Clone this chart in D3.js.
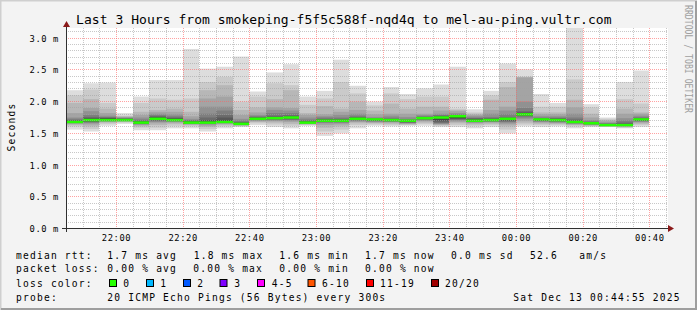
<!DOCTYPE html>
<html><head><meta charset="utf-8">
<script src="https://cdn.jsdelivr.net/npm/d3@7"></script>
<style>
html,body{margin:0;padding:0;background:#f3f3f3;}
svg text{font-family:"DejaVu Sans Mono",monospace;}
</style>
</head><body>
<svg id="chart" width="697" height="310"></svg>
<script>
// ---------- data ----------
const titleText = "Last 3 Hours from smokeping-f5f5c588f-nqd4q to mel-au-ping.vultr.com";
const slots = ["21:45","21:50","21:55","22:00","22:05","22:10","22:15","22:20","22:25","22:30","22:35","22:40",
  "22:45","22:50","22:55","23:00","23:05","23:10","23:15","23:20","23:25","23:30","23:35","23:40",
  "23:45","23:50","23:55","00:00","00:05","00:10","00:15","00:20","00:25","00:30","00:35"];
// 20 sorted ping RTTs (ms) per 5-minute slot
const pings = [
  [1.55,1.60,1.62,1.64,1.65,1.66,1.66,1.67,1.67,1.67,1.68,1.68,1.69,1.70,1.72,1.74,1.81,1.97,2.09,2.17],
  [1.52,1.56,1.60,1.63,1.65,1.66,1.67,1.68,1.69,1.70,1.71,1.72,1.73,1.75,1.78,1.84,1.89,2.03,2.18,2.28],
  [1.61,1.64,1.66,1.67,1.68,1.69,1.70,1.70,1.71,1.71,1.72,1.72,1.73,1.74,1.75,1.77,1.81,1.88,1.97,2.29],
  [1.64,1.66,1.67,1.68,1.69,1.69,1.70,1.70,1.70,1.71,1.71,1.71,1.72,1.72,1.73,1.74,1.75,1.76,1.77,1.81],
  [1.54,1.58,1.60,1.62,1.63,1.64,1.65,1.65,1.66,1.66,1.67,1.67,1.68,1.69,1.71,1.74,1.78,1.83,1.97,2.07],
  [1.54,1.58,1.62,1.65,1.67,1.68,1.69,1.70,1.71,1.72,1.73,1.74,1.75,1.76,1.78,1.80,1.83,1.86,2.04,2.33],
  [1.57,1.61,1.64,1.66,1.67,1.68,1.69,1.70,1.70,1.71,1.71,1.72,1.73,1.74,1.76,1.79,1.83,1.88,2.02,2.33],
  [1.57,1.60,1.62,1.63,1.64,1.65,1.65,1.66,1.66,1.66,1.67,1.67,1.68,1.69,1.70,1.72,1.76,1.83,2.04,2.82],
  [1.52,1.56,1.59,1.61,1.63,1.64,1.65,1.66,1.66,1.66,1.67,1.68,1.70,1.74,1.80,1.91,2.04,2.17,2.30,2.51],
  [1.57,1.60,1.62,1.64,1.65,1.66,1.66,1.67,1.67,1.67,1.68,1.70,1.74,1.78,1.85,1.91,2.07,2.25,2.38,2.54],
  [1.59,1.60,1.61,1.62,1.63,1.63,1.64,1.64,1.64,1.64,1.65,1.65,1.66,1.67,1.69,1.72,1.78,1.86,1.99,2.70],
  [1.62,1.65,1.67,1.68,1.69,1.70,1.71,1.71,1.72,1.72,1.73,1.73,1.74,1.75,1.76,1.78,1.82,1.90,2.07,2.15],
  [1.59,1.63,1.66,1.68,1.69,1.70,1.71,1.72,1.72,1.73,1.73,1.74,1.75,1.77,1.81,1.86,1.90,2.03,2.28,2.45],
  [1.57,1.61,1.64,1.67,1.69,1.70,1.71,1.72,1.73,1.74,1.74,1.75,1.76,1.78,1.81,1.85,1.89,2.17,2.25,2.58],
  [1.61,1.62,1.63,1.64,1.65,1.65,1.66,1.66,1.66,1.66,1.67,1.67,1.68,1.69,1.71,1.74,1.78,1.81,1.94,2.07],
  [1.45,1.52,1.58,1.62,1.65,1.66,1.67,1.68,1.68,1.69,1.69,1.70,1.71,1.72,1.74,1.76,1.79,1.92,2.04,2.16],
  [1.49,1.55,1.60,1.63,1.65,1.66,1.67,1.68,1.68,1.69,1.69,1.70,1.71,1.72,1.74,1.78,1.83,1.88,2.30,2.65],
  [1.57,1.62,1.65,1.67,1.68,1.69,1.70,1.71,1.71,1.72,1.72,1.73,1.74,1.75,1.77,1.80,1.86,1.99,2.12,2.24],
  [1.61,1.63,1.65,1.66,1.67,1.68,1.69,1.69,1.70,1.70,1.70,1.71,1.71,1.72,1.73,1.75,1.79,1.85,1.93,1.99],
  [1.60,1.62,1.64,1.66,1.67,1.68,1.68,1.69,1.69,1.69,1.70,1.70,1.71,1.72,1.74,1.77,1.80,1.96,2.12,2.22],
  [1.61,1.62,1.63,1.64,1.65,1.66,1.66,1.67,1.67,1.67,1.68,1.68,1.69,1.70,1.72,1.75,1.80,1.88,2.03,2.11],
  [1.61,1.64,1.66,1.68,1.69,1.70,1.71,1.72,1.72,1.73,1.73,1.74,1.74,1.75,1.76,1.78,1.80,1.91,2.07,2.20],
  [1.59,1.61,1.62,1.63,1.64,1.65,1.66,1.68,1.70,1.72,1.74,1.75,1.76,1.77,1.78,1.80,1.85,1.91,2.07,2.26],
  [1.59,1.62,1.65,1.67,1.69,1.70,1.71,1.72,1.73,1.74,1.75,1.76,1.77,1.78,1.79,1.81,1.84,1.86,1.88,2.54],
  [1.57,1.61,1.63,1.65,1.66,1.67,1.68,1.69,1.69,1.70,1.70,1.71,1.72,1.73,1.74,1.76,1.78,1.80,1.82,1.87],
  [1.59,1.62,1.64,1.66,1.67,1.68,1.68,1.69,1.70,1.70,1.71,1.71,1.72,1.73,1.75,1.80,1.86,2.02,2.09,2.16],
  [1.49,1.55,1.60,1.63,1.65,1.67,1.68,1.69,1.70,1.71,1.71,1.72,1.73,1.75,1.79,1.85,1.91,2.22,2.30,2.59],
  [1.60,1.63,1.66,1.69,1.72,1.74,1.76,1.77,1.78,1.79,1.79,1.80,1.82,1.84,1.89,1.99,2.37,2.38,2.38,2.50],
  [1.59,1.62,1.64,1.66,1.67,1.68,1.69,1.69,1.70,1.70,1.71,1.71,1.72,1.73,1.74,1.76,1.79,1.82,1.91,2.11],
  [1.60,1.62,1.64,1.65,1.66,1.67,1.68,1.69,1.69,1.70,1.70,1.71,1.72,1.73,1.74,1.76,1.79,1.82,1.91,1.97],
  [1.57,1.60,1.62,1.63,1.64,1.65,1.66,1.66,1.67,1.67,1.68,1.68,1.69,1.71,1.74,1.80,1.90,2.02,2.34,3.30],
  [1.59,1.60,1.61,1.62,1.63,1.63,1.64,1.64,1.65,1.65,1.65,1.66,1.66,1.67,1.68,1.70,1.74,1.80,1.90,1.95],
  [1.59,1.60,1.60,1.61,1.61,1.61,1.62,1.62,1.62,1.62,1.62,1.63,1.63,1.64,1.65,1.66,1.68,1.70,1.72,1.74],
  [1.57,1.58,1.59,1.60,1.61,1.61,1.62,1.62,1.62,1.62,1.63,1.63,1.64,1.66,1.69,1.73,1.80,1.88,2.03,2.30],
  [1.59,1.62,1.64,1.66,1.67,1.68,1.69,1.69,1.70,1.70,1.71,1.71,1.72,1.73,1.75,1.77,1.80,1.82,1.96,2.48]
];
const medians = [1.67,1.70,1.70,1.70,1.66,1.72,1.70,1.66,1.66,1.67,1.64,1.72,1.73,1.74,1.66,1.69,1.69,1.72,1.71,1.70,
  1.69,1.73,1.74,1.76,1.69,1.70,1.72,1.79,1.71,1.70,1.67,1.65,1.62,1.62,1.71];
const lossPct = [0,0,0,0,0,0,0,0,0,0,0,0,0,0,0,0,0,0,0,0,0,0,0,0,0,0,0,0,0,0,0,0,0,0,0];
const yTickValues = [0,0.5,1.0,1.5,2.0,2.5,3.0];
const yTickLabels = ["0.0 m","0.5 m","1.0 m","1.5 m","2.0 m","2.5 m","3.0 m"];
const xTickLabels = ["22:00","22:20","22:40","23:00","23:20","23:40","00:00","00:20","00:40"];
const lossLabels = ["0","1","2","3","4-5","6-10","11-19","20/20"];
const lossColors = ["#26ff00","#00b8ff","#0059ff","#7e00ff","#ff00ff","#ff5500","#ff0000","#a10000"];
const rttRow = ["median rtt:","1.7 ms avg","1.8 ms max","1.6 ms min","1.7 ms now","0.0 ms sd","52.6","am/s"];
const lossRow = ["packet loss:","0.00 % avg","0.00 % max","0.00 % min","0.00 % now"];
const probeRow = ["probe:","20 ICMP Echo Pings (56 Bytes) every 300s","Sat Dec 13 00:44:55 2025"];

// ---------- helpers ----------
const toDate = s => { const [h,m] = s.split(":").map(Number); return new Date(Date.UTC(2025,11,h<12?13:12,h,m)); };
const t0 = toDate("21:45"), t1 = toDate("00:45");
const svg = d3.select("#chart");
const W = 697, H = 310;
const x = d3.scaleUtc().domain([t0,t1]).range([66,666]);
const y = d3.scaleLinear().domain([0,3.15]).range([228,28]);
const step = 5*60*1000;

// background + 3D frame
svg.append("rect").attr("width",W).attr("height",H).attr("fill","#f3f3f3");
svg.append("path").attr("d",`M0.5,${H}V0.5H${W}`).attr("stroke","#cfcfcf").attr("stroke-width",2).attr("fill","none");
svg.append("path").attr("d",`M1,${H-1}H${W-1}V1`).attr("stroke","#9e9e9e").attr("stroke-width",2).attr("fill","none");

// canvas
svg.append("rect").attr("x",66).attr("y",28).attr("width",602).attr("height",200).attr("fill","#ffffff");
svg.append("clipPath").attr("id","clip").append("rect").attr("x",66).attr("y",28).attr("width",602).attr("height",200);

const greys = ["#dddddd","#cacaca","#b7b7b7","#a4a4a4","#919191","#7e7e7e","#6b6b6b","#585858","#454545","#323232"];
const plot = svg.append("g").attr("clip-path","url(#clip)");
slots.forEach((s,i) => {
  const d = toDate(s);
  const xa = Math.round(x(d)), xb = Math.round(x(new Date(+d+step)));
  const p = pings[i];
  for (let k=0;k<10;k++){
    const lo = p[k], hi = p[19-k];
    plot.append("rect").attr("x",xa).attr("width",xb-xa)
      .attr("y",y(hi)).attr("height",Math.max(0,y(lo)-y(hi))).attr("fill",greys[k]);
  }
});
// median line coloured by loss
slots.forEach((s,i) => {
  const d = toDate(s);
  const xa = Math.round(x(d)), xb = Math.round(x(new Date(+d+step)));
  const ym = y(medians[i]);
  plot.append("rect").attr("x",xa).attr("width",xb-xa).attr("y",ym-1.25).attr("height",2.5)
    .attr("fill",lossColors[lossPct[i]]);
});

// grid (drawn over data)
const grid = svg.append("g").attr("fill","none").attr("stroke-dasharray","1,1");
const minorY = d3.range(1,32).map(v=>v/10).filter(v=>Math.abs(v*2-Math.round(v*2))>1e-6);
minorY.forEach(v => { const yy = Math.round(y(v))+0.5;
  grid.append("line").attr("x1",66).attr("x2",668).attr("y1",yy).attr("y2",yy).attr("stroke","rgba(160,160,160,0.58)"); });
const minorX = d3.utcMinute.every(5).range(new Date(+t0+step), new Date(+t1+1)).filter(d=>d.getUTCMinutes()%20!==0);
minorX.forEach(d => { const xx = Math.round(x(d))+0.5;
  grid.append("line").attr("x1",xx).attr("x2",xx).attr("y1",28).attr("y2",228).attr("stroke","rgba(160,160,160,0.58)"); });
yTickValues.slice(1).forEach(v => { const yy = Math.round(y(v))+0.5;
  grid.append("line").attr("x1",66).attr("x2",668).attr("y1",yy).attr("y2",yy).attr("stroke","rgba(255,100,100,0.6)"); });
const majorX = xTickLabels.map(toDate);
majorX.forEach(d => { const xx = Math.round(x(d))+0.5;
  grid.append("line").attr("x1",xx).attr("x2",xx).attr("y1",28).attr("y2",228).attr("stroke","rgba(255,100,100,0.6)"); });

// axes
svg.append("line").attr("x1",62).attr("x2",669).attr("y1",228.5).attr("y2",228.5).attr("stroke","#303030");
svg.append("line").attr("x1",66.5).attr("x2",66.5).attr("y1",232).attr("y2",26).attr("stroke","#303030");
svg.append("path").attr("d","M66.5,21L63,27H70Z").attr("fill","#8b1a1a");
svg.append("path").attr("d","M674,228.5L668,225V232Z").attr("fill","#8b1a1a");

// axis labels
const tickFont = {size:"8.8px", ls:"0.6px"};
const yAxisG = svg.append("g");
yTickValues.forEach((v,i) => {
  yAxisG.append("text").attr("x",59).attr("y",Math.round(y(v))+3.5).attr("text-anchor","end")
    .attr("font-size",tickFont.size).attr("letter-spacing",tickFont.ls).text(yTickLabels[i]);
});
majorX.forEach((d,i) => {
  svg.append("text").attr("x",x(d)+0.5).attr("y",240.5).attr("text-anchor","middle")
    .attr("font-size",tickFont.size).attr("letter-spacing",tickFont.ls).text(xTickLabels[i]);
});

// title
svg.append("text").attr("x",76).attr("y",23.5).attr("font-size","13px").attr("letter-spacing","0.05px").text(titleText);
// y label
svg.append("text").attr("transform","translate(14.5,127) rotate(-90)").attr("text-anchor","middle")
  .attr("font-size","9.6px").attr("letter-spacing","1.2px").text("Seconds");
// watermark
svg.append("text").attr("transform","translate(684.5,5) rotate(90)")
  .attr("font-size","9.6px").attr("textLength",108).attr("lengthAdjust","spacingAndGlyphs")
  .attr("fill","#a0a0a0").text("RRDTOOL / TOBI OETIKER");

// legend
const lg = svg.append("g").attr("font-size","9.6px").attr("letter-spacing","1.2px");
const put = (t,xx,yy) => lg.append("text").attr("x",xx).attr("y",yy).attr("xml:space","preserve").text(t);
const rttX = [16,107.3,193.7,279.3,365,451,530,579.3];
rttRow.forEach((t,i)=>put(t,rttX[i],258.5));
const lossX = [16,107.3,193.3,279.3,365];
lossRow.forEach((t,i)=>put(t,lossX[i],272));
put("loss color:",16,286.5);
const boxX = [109,146,183,219.5,257,307.5,366,431];
const lblX = [123.3,160.3,197.3,234.3,271.7,322,380,445];
lossLabels.forEach((l,i)=>{
  lg.append("rect").attr("x",boxX[i]+0.5).attr("y",279.5).attr("width",7).attr("height",7)
    .attr("fill",lossColors[i]).attr("stroke","#000").attr("stroke-width",1);
  put(l,lblX[i],286.5);
});
put(probeRow[0],16,300.5);
put(probeRow[1],107.3,300.5);
put(probeRow[2],513.3,300.5);
</script>
</body></html>
